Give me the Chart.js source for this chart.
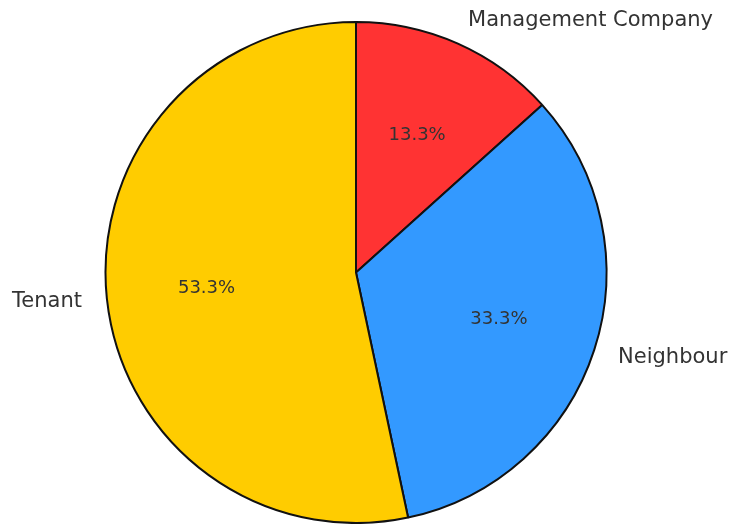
<!DOCTYPE html>
<html>
<head>
<meta charset="utf-8">
<script src="https://cdn.jsdelivr.net/npm/chart.js@4/dist/chart.umd.min.js"></script>
<style>
  html, body { margin: 0; padding: 0; background: #fff; }
  #wrap { width: 733px; height: 524px; position: relative; }
</style>
</head>
<body>
<div id="wrap"><canvas id="pie"></canvas></div>
<script>
const labels = ["Management Company", "Neighbour", "Tenant"];
const counts = [2, 5, 8];
const colors = ["#FF3333", "#3399FF", "#FFCC00"];

const total = counts.reduce((a, b) => a + b, 0);

// text outside the slices at 1.1r, percentages inside at 0.6r
const sliceText = {
  id: "sliceText",
  afterDatasetsDraw(chart) {
    const ctx = chart.ctx;
    const arcs = chart.getDatasetMeta(0).data;
    ctx.save();
    ctx.fillStyle = "#333333";
    ctx.textBaseline = "middle";
    arcs.forEach((arc, i) => {
      const mid = (arc.startAngle + arc.endAngle) / 2;
      const cx = arc.x, cy = arc.y, r = arc.outerRadius;
      const cos = Math.cos(mid), sin = Math.sin(mid);

      ctx.font = "18px 'DejaVu Sans'";
      ctx.textAlign = "center";
      const pct = (counts[i] / total * 100).toFixed(1) + "%";
      ctx.fillText(pct, cx + cos * r * 0.6, cy + sin * r * 0.6);

      ctx.font = "21px 'DejaVu Sans'";
      ctx.textAlign = cos >= 0 ? "left" : "right";
      ctx.fillText(labels[i], cx + cos * r * 1.1, cy + sin * r * 1.1);
    });
    ctx.restore();
  }
};

new Chart(document.getElementById("pie"), {
  type: "pie",
  data: {
    labels: labels,
    datasets: [{
      data: counts,
      backgroundColor: colors,
      borderColor: "#111111",
      borderWidth: 2,
      borderAlign: "center"
    }]
  },
  options: {
    responsive: true,
    maintainAspectRatio: false,
    animation: false,
    rotation: 0,
    layout: { padding: { top: 21, bottom: 0, left: 104, right: 125 } },
    plugins: {
      legend: { display: false },
      tooltip: { enabled: false }
    }
  },
  plugins: [sliceText]
});
</script>
</body>
</html>
